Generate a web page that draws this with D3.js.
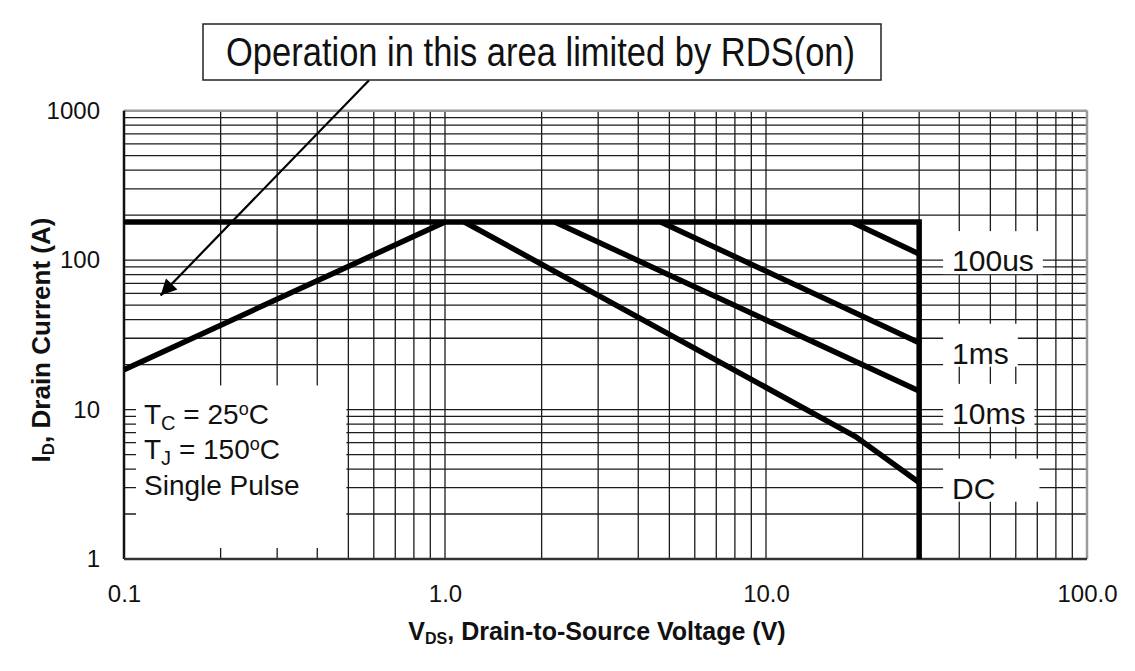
<!DOCTYPE html>
<html>
<head>
<meta charset="utf-8">
<script src="https://cdn.jsdelivr.net/npm/d3@7"></script>
<style>
body { margin: 0; background: #fff; }
svg { display: block; }
text { font-family: "Liberation Sans", Arial, sans-serif; fill: #111; }
</style>
</head>
<body>
<div id="chart"></div>
<script>
// tick labels
var xTickValues = [0.1, 1, 10, 100];
var xTickLabels = ["0.1", "1.0", "10.0", "100.0"];
var yTickValues = [1, 10, 100, 1000];
var yTickLabels = ["1", "10", "100", "1000"];

// safe operating area boundaries, [V, A]
var rdsLimit = [[0.1, 18.5], [1.0, 180]];
var currentLimit = [[0.1, 180], [30, 180]];
var voltageLimit = [[30, 180], [30, 1]];
var line100us = [[18.5, 180], [30, 110]];
var line1ms = [[4.7, 180], [30, 28]];
var line10ms = [[2.2, 180], [30, 13.3]];
var lineDC = [[1.15, 180], [19, 6.6], [30, 3.25]];

// curve labels on the right
var curveLabels = ["100us", "1ms", "10ms", "DC"];
var curveLabelAmps = [100, 24, 9.5, 3];
var curveLabelVolts = 38;

// arrow of the RDS(on) note, [V, A]
var arrowFrom = [0.58, 1600];
var arrowTo = [0.13, 58];

var margin = {top: 110.7, right: 48, bottom: 112, left: 124},
    width = 1135 - margin.left - margin.right,
    height = 671 - margin.top - margin.bottom;

var root = d3.select("#chart")
  .append("svg")
  .attr("width", 1135)
  .attr("height", 671);

var svg = root.append("g")
  .attr("transform", `translate(${margin.left},${margin.top})`);

var x = d3.scaleLog().domain([0.1, 100]).range([0, width]);
var y = d3.scaleLog().domain([1, 1000]).range([height, 0]);

// minor grid 1..9 per decade
var xGrid = [], yGrid = [];
[0.1, 1, 10].forEach(function(d){ for (var k = 1; k < 10; k++) xGrid.push(d * k); });
xGrid.push(100);
[1, 10, 100].forEach(function(d){ for (var k = 1; k < 10; k++) yGrid.push(d * k); });
yGrid.push(1000);

var grid = svg.append("g").attr("stroke", "#1c1c1c").attr("stroke-width", 1.3);
grid.selectAll(".vg").data(xGrid).join("line")
  .attr("x1", d => x(d)).attr("x2", d => x(d))
  .attr("y1", 0).attr("y2", height);
grid.selectAll(".hg").data(yGrid).join("line")
  .attr("y1", d => y(d)).attr("y2", d => y(d))
  .attr("x1", 0).attr("x2", width);

// white box behind the conditions text
svg.append("rect")
  .attr("x", x(0.1) + 12)
  .attr("y", y(14.5))
  .attr("width", x(0.5) - 2 - x(0.1) - 12)
  .attr("height", y(1) - 11 - y(14.5))
  .attr("fill", "#fff");

var legend = svg.append("g").style("font-size", "28px");
var t1 = legend.append("text").attr("x", 20).attr("y", y(10) + 14);
t1.append("tspan").text("T");
t1.append("tspan").attr("dy", 6).style("font-size", "20px").text("C");
t1.append("tspan").attr("dy", -6).text(" = 25");
t1.append("tspan").attr("dy", -9).style("font-size", "18px").text("o");
t1.append("tspan").attr("dy", 9).text("C");
var t2 = legend.append("text").attr("x", 20).attr("y", y(10) + 49);
t2.append("tspan").text("T");
t2.append("tspan").attr("dy", 6).style("font-size", "20px").text("J");
t2.append("tspan").attr("dy", -6).text(" = 150");
t2.append("tspan").attr("dy", -9).style("font-size", "18px").text("o");
t2.append("tspan").attr("dy", 9).text("C");
legend.append("text").attr("x", 20).attr("y", y(10) + 85).text("Single Pulse");

// curve labels with white boxes
var labels = svg.append("g").style("font-size", "30px");
curveLabels.forEach(function(lab, i){
  var base = y(curveLabelAmps[i]) + 11;
  var g = labels.append("g");
  var r = g.append("rect").attr("fill", "#fff");
  var t = g.append("text").attr("x", x(curveLabelVolts)).attr("y", base).text(lab);
  var w = t.node().getComputedTextLength();
  r.attr("x", x(curveLabelVolts) - 9).attr("y", base - 40)
   .attr("width", w + (lab == "DC" ? 53 : 18)).attr("height", 43);
});

// frame
svg.append("line").attr("x1", 0).attr("x2", width).attr("y1", 0).attr("y2", 0)
  .attr("stroke", "#9a9a9a").attr("stroke-width", 2.5);
svg.append("line").attr("x1", width).attr("x2", width).attr("y1", 0).attr("y2", height)
  .attr("stroke", "#9a9a9a").attr("stroke-width", 2.5);
svg.append("line").attr("x1", 0).attr("x2", 0).attr("y1", 0).attr("y2", height)
  .attr("stroke", "#111").attr("stroke-width", 2.5);
svg.append("line").attr("x1", 0).attr("x2", width).attr("y1", height).attr("y2", height)
  .attr("stroke", "#333").attr("stroke-width", 2.5);

// SOA lines
var line = d3.line().x(d => x(d[0])).y(d => y(d[1]));
var soa = [currentLimit.concat(voltageLimit.slice(1)), rdsLimit, line100us, line1ms, line10ms, lineDC];
svg.append("g").selectAll("path").data(soa).join("path")
  .attr("d", line)
  .attr("fill", "none")
  .attr("stroke", "#000")
  .attr("stroke-width", 5.5)
  .attr("stroke-linejoin", "miter");

// axes
svg.append("g")
  .attr("transform", `translate(0,${height})`)
  .call(d3.axisBottom(x).tickValues(xTickValues).tickFormat((d, i) => xTickLabels[i]).tickSize(0).tickPadding(26))
  .call(g => g.select(".domain").remove())
  .selectAll("text").style("font-size", "24px").attr("fill", "#111")
  .style("font-family", "'Liberation Sans', Arial, sans-serif");

svg.append("g")
  .call(d3.axisLeft(y).tickValues(yTickValues).tickFormat((d, i) => yTickLabels[i]).tickSize(0).tickPadding(24))
  .call(g => g.select(".domain").remove())
  .selectAll("text").style("font-size", "24px").attr("fill", "#111")
  .style("font-family", "'Liberation Sans', Arial, sans-serif");

// axis titles
var xt = root.append("text")
  .attr("x", 597).attr("y", 640)
  .attr("text-anchor", "middle")
  .style("font-size", "25px").style("font-weight", "bold");
xt.append("tspan").text("V");
xt.append("tspan").attr("dy", 4).style("font-size", "16px").text("DS");
xt.append("tspan").attr("dy", -4).text(", Drain-to-Source Voltage (V)");

var yt = root.append("text")
  .attr("transform", "translate(50,340) rotate(-90)")
  .attr("text-anchor", "middle")
  .style("font-size", "26px").style("font-weight", "bold");
yt.append("tspan").text("I");
yt.append("tspan").attr("dy", 4).style("font-size", "17px").text("D");
yt.append("tspan").attr("dy", -4).text(", Drain Current (A)");

// note with arrow
root.append("defs").append("marker")
  .attr("id", "head")
  .attr("viewBox", "0 0 10 10")
  .attr("refX", 10).attr("refY", 5)
  .attr("markerUnits", "userSpaceOnUse")
  .attr("markerWidth", 22).attr("markerHeight", 16)
  .attr("orient", "auto")
  .append("path").attr("d", "M0,0L10,5L0,10z").attr("fill", "#000");

svg.append("line")
  .attr("x1", x(arrowFrom[0])).attr("y1", y(arrowFrom[1]))
  .attr("x2", x(arrowTo[0])).attr("y2", y(arrowTo[1]))
  .attr("stroke", "#000").attr("stroke-width", 2.2)
  .attr("marker-end", "url(#head)");

root.append("rect")
  .attr("x", 203).attr("y", 24).attr("width", 678).attr("height", 56)
  .attr("fill", "#fff").attr("stroke", "#222").attr("stroke-width", 1.5);
root.append("text")
  .attr("x", 226).attr("y", 66)
  .attr("textLength", 629).attr("lengthAdjust", "spacingAndGlyphs")
  .style("font-size", "40px")
  .text("Operation in this area limited by RDS(on)");
</script>
</body>
</html>
